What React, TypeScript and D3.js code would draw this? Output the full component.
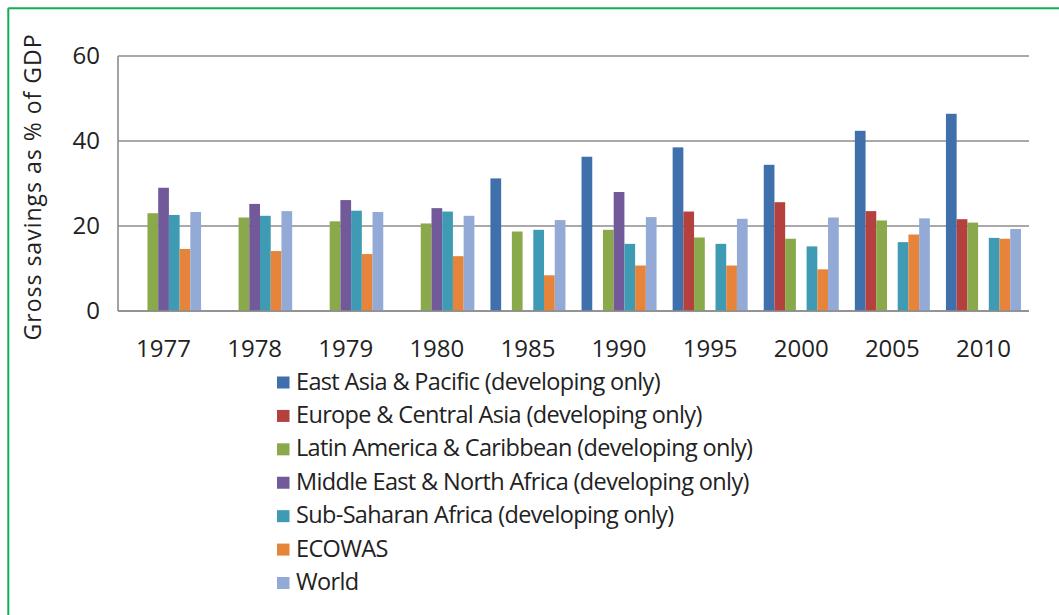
import React from "react";
import * as d3 from "d3";

const years = ["1977", "1978", "1979", "1980", "1985", "1990", "1995", "2000", "2005", "2010"];

const seriesNames = [
  "East Asia & Pacific (developing only)",
  "Europe & Central Asia (developing only)",
  "Latin America & Caribbean (developing only)",
  "Middle East & North Africa (developing only)",
  "Sub-Saharan Africa (developing only)",
  "ECOWAS",
  "World",
];

const colors = ["#4070AC", "#B4413E", "#89A94A", "#72599A", "#3F9BB4", "#E5843A", "#92AAD5"];

// gross savings as % of GDP, null = no bar
const eastAsia = [null, null, null, null, 31.2, 36.3, 38.5, 34.4, 42.4, 46.4];
const europe = [null, null, null, null, null, null, 23.4, 25.6, 23.5, 21.6];
const latinAmerica = [23.0, 22.0, 21.1, 20.6, 18.7, 19.1, 17.3, 17.0, 21.3, 20.8];
const middleEast = [29.0, 25.2, 26.1, 24.2, null, 28.0, null, null, null, null];
const subSahara = [22.6, 22.4, 23.6, 23.4, 19.1, 15.8, 15.8, 15.2, 16.2, 17.2];
const ecowas = [14.6, 14.1, 13.4, 12.9, 8.4, 10.7, 10.7, 9.8, 18.0, 17.0];
const world = [23.3, 23.5, 23.3, 22.4, 21.4, 22.1, 21.7, 22.0, 21.8, 19.3];

const yTicks = [0, 20, 40, 60];

const allSeries = [eastAsia, europe, latinAmerica, middleEast, subSahara, ecowas, world];

const font = "'Open Sans', sans-serif";

export default function App() {
  const W = 1059;
  const H = 615;
  const left = 118;
  const right = 1029;
  const top = 56;
  const bottom = 311;

  const x0 = d3.scaleBand<string>().domain(years).range([left, right]);
  const x1 = d3
    .scaleBand<number>()
    .domain(d3.range(seriesNames.length))
    .range([0, x0.bandwidth()])
    .paddingOuter(0.75);
  const y = d3.scaleLinear().domain([0, 60]).range([bottom, top]);

  const legendY = d3
    .scalePoint<number>()
    .domain(d3.range(seriesNames.length))
    .range([382.5, 583]);

  return (
    <svg
      width={W}
      height={H}
      style={{ position: "absolute", left: 0, top: 0, background: "#fff" }}
      fontFamily={font}
    >
      <rect x={0} y={0} width={W} height={H} fill="#fff" />
      {/* green frame */}
      <line x1={8.3} y1={8.3} x2={W} y2={8.3} stroke="#10B04E" strokeWidth={2} />
      <line x1={8.3} y1={8.3} x2={8.3} y2={H} stroke="#10B04E" strokeWidth={2} />

      {/* grid */}
      {yTicks.map((t) => (
        <g key={t}>
          <line x1={left} x2={right} y1={y(t)} y2={y(t)} stroke="#8c8c8c" strokeWidth={1.6} />
          <text x={100} y={y(t)} dy="0.35em" textAnchor="end" fontSize={24} fill="#222">
            {t}
          </text>
        </g>
      ))}
      <line x1={left} x2={left} y1={top} y2={bottom} stroke="#8c8c8c" strokeWidth={1.6} />

      {/* bars */}
      {allSeries.map((vals, si) =>
        vals.map((v, i) =>
          v == null ? null : (
            <rect
              key={si + "-" + i}
              x={(x0(years[i]) as number) + (x1(si) as number)}
              y={y(v)}
              width={x1.bandwidth()}
              height={y(0) - y(v)}
              fill={colors[si]}
            />
          )
        )
      )}
      <line x1={left} x2={right} y1={y(0)} y2={y(0)} stroke="#8c8c8c" strokeWidth={1.6} />

      {/* x labels */}
      {years.map((yr) => (
        <text
          key={yr}
          x={(x0(yr) as number) + x0.bandwidth() / 2}
          y={357}
          textAnchor="middle"
          fontSize={24}
          fill="#222"
        >
          {yr}
        </text>
      ))}

      {/* y title */}
      <text
        transform={`translate(41,187) rotate(-90)`}
        textAnchor="middle"
        fontSize={23}
        letterSpacing={1}
        fill="#222"
      >
        Gross savings as % of GDP
      </text>

      {/* legend */}
      {seriesNames.map((name, i) => (
        <g key={name}>
          <rect x={277} y={(legendY(i) as number) - 6} width={12.5} height={12} fill={colors[i]} />
          <text
            x={296}
            y={(legendY(i) as number) + 7}
            fontSize={23.5}
            letterSpacing={-0.65}
            fill="#222"
          >
            {name}
          </text>
        </g>
      ))}
    </svg>
  );
}
